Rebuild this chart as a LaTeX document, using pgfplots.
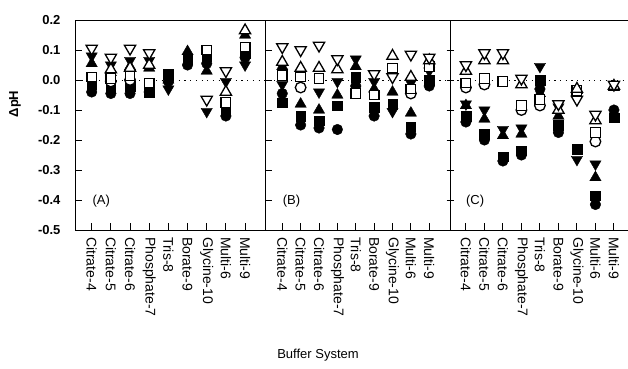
\documentclass[border=0pt]{standalone}
\usepackage{fontspec}
\setmainfont{Liberation Sans}
\usepackage{pgfplots}
\usepackage{pgfplotstable}
\pgfplotsset{compat=1.18}

\pgfplotstableread{
x ov ou os oc fv fu fs fc
0 0.105 nan 0.01 nan 0.08 0.055 -0.015 -0.04
1 0.075 0.035 0.005 -0.005 0.05 0.025 -0.025 -0.045
2 0.105 0.04 0.015 0.0 0.065 0.045 -0.02 -0.045
3 0.09 0.05 -0.01 nan 0.065 0.04 -0.04 -0.04
4 nan nan nan nan -0.03 0.0 0.02 -0.005
5 nan nan nan nan nan 0.095 0.07 0.05
6 -0.065 nan 0.10 nan -0.105 0.03 0.08 0.055
7 0.03 -0.04 -0.075 nan -0.005 nan -0.10 -0.12
8 nan 0.165 0.11 nan 0.05 0.15 0.09 0.075
}\dataA

\pgfplotstableread{
x ov ou os oc fv fu fs fc
0 0.11 0.06 0.015 nan -0.015 0.045 -0.075 -0.045
1 0.10 0.04 0.01 -0.025 nan -0.08 -0.12 -0.15
2 0.115 0.04 0.005 nan -0.04 -0.10 -0.135 -0.16
3 0.07 0.035 nan nan -0.005 -0.05 -0.085 -0.165
4 nan nan -0.045 nan 0.07 0.045 0.01 -0.02
5 0.02 nan -0.05 nan -0.005 -0.03 -0.09 -0.12
6 0.01 0.08 0.04 nan -0.105 -0.04 -0.08 nan
7 0.085 0.01 -0.03 -0.045 -0.01 -0.11 -0.155 -0.18
8 0.075 0.065 0.045 nan 0.03 nan 0.0 -0.02
}\dataB

\pgfplotstableread{
x ov ou os oc fv fu fs fc
0 0.05 0.03 -0.01 -0.025 -0.08 -0.085 -0.12 -0.14
1 0.09 0.065 0.005 -0.015 -0.10 -0.13 -0.18 -0.20
2 0.09 0.065 -0.005 nan -0.165 -0.185 -0.255 -0.27
3 0.005 -0.015 -0.085 -0.10 -0.16 -0.18 -0.235 -0.25
4 nan nan -0.065 -0.085 0.045 -0.045 0.0 -0.03
5 -0.08 -0.10 nan nan -0.09 -0.12 -0.15 -0.175
6 -0.065 -0.03 -0.035 nan -0.265 -0.035 -0.23 nan
7 -0.115 -0.135 -0.175 -0.205 -0.28 -0.325 -0.385 -0.415
8 -0.015 -0.02 nan nan nan -0.025 -0.125 -0.10
}\dataC

\pgfplotsset{
  panel/.style={
    scale only axis, height=210pt,
    ymin=-0.5, ymax=0.2,
    ytick={-0.5,-0.4,-0.3,-0.2,-0.1,0,0.1,0.2},
    xtick={0,1,2,3,4,5,6,7,8},
    xticklabels={Citrate-4,Citrate-5,Citrate-6,Phosphate-7,Tris-8,Borate-9,Glycine-10,Multi-6,Multi-9},
    xtick pos=bottom, ytick pos=left,
    tick align=inside, major tick length=7pt,
    every tick/.style={black, line width=1pt},
    axis line style={line width=1pt},
    xticklabel shift=6pt,
    xticklabel style={rotate=-90, anchor=west, inner sep=1pt, font=\fontsize{14}{14}\selectfont},
    yticklabels={},
  },
  ov/.style={only marks, mark=triangle*, mark size=6.5pt, mark options={rotate=180, fill=white, draw=black, line width=1.3pt}},
  ou/.style={only marks, mark=triangle*, mark size=6.5pt, mark options={fill=white, draw=black, line width=1.3pt}},
  os/.style={only marks, mark=square*, mark size=4.8pt, mark options={fill=white, draw=black, line width=1.3pt}},
  oc/.style={only marks, mark=*, mark size=5.3pt, mark options={fill=white, draw=black, line width=1.3pt}},
  fv/.style={only marks, mark=triangle*, mark size=6.5pt, mark options={rotate=180, fill=black, draw=black}},
  fu/.style={only marks, mark=triangle*, mark size=6.5pt, mark options={fill=black, draw=black}},
  fs/.style={only marks, mark=square*, mark size=4.8pt, mark options={fill=black, draw=black}},
  fc/.style={only marks, mark=*, mark size=5.3pt, mark options={fill=black, draw=black}},
  zeroline/.style={black, line width=1pt, dash pattern=on 1.2pt off 4.5pt},
}

\newcommand{\drawpanel}[2]{%
  \addplot[zeroline] coordinates {(-2,0) (12,0)};
  \addplot[fc] table[x=x,y=fc]{#1};
  \addplot[fs] table[x=x,y=fs]{#1};
  \addplot[fu] table[x=x,y=fu]{#1};
  \addplot[fv] table[x=x,y=fv]{#1};
  \addplot[oc] table[x=x,y=oc]{#1};
  \addplot[os] table[x=x,y=os]{#1};
  \addplot[ou] table[x=x,y=ou]{#1};
  \addplot[ov] table[x=x,y=ov]{#1};
  \node[font=\fontsize{13}{13}\selectfont] at (axis cs:0.5,-0.405) {#2};
}

\begin{document}
\begin{tikzpicture}[x=1pt,y=1pt]
\path[use as bounding box] (0,0) rectangle (628,368);
\begin{axis}[panel, at={(75pt,138pt)}, anchor=south west, width=190pt,
  xmin=-0.87, xmax=9.04,
  yticklabels={-0.5,-0.4,-0.3,-0.2,-0.1,0.0,0.1,0.2},
  yticklabel style={font=\bfseries\fontsize{13}{13}\selectfont, xshift=-11pt}]
\drawpanel{\dataA}{(A)}
\end{axis}
\begin{axis}[panel, at={(265pt,138pt)}, anchor=south west, width=185pt,
  xmin=-0.94, xmax=9.13]
\drawpanel{\dataB}{(B)}
\end{axis}
\begin{axis}[panel, at={(450pt,138pt)}, anchor=south west, width=178pt,
  xmin=-0.86, xmax=8.76, axis y line=left, axis x line=box, y axis line style={-}]
\drawpanel{\dataC}{(C)}
\end{axis}
\node[rotate=90, font=\bfseries\fontsize{13}{13}\selectfont] at (15,264) {ΔpH};
\node[font=\fontsize{13}{13}\selectfont] at (318,13) {Buffer System};
\end{tikzpicture}
\end{document}
